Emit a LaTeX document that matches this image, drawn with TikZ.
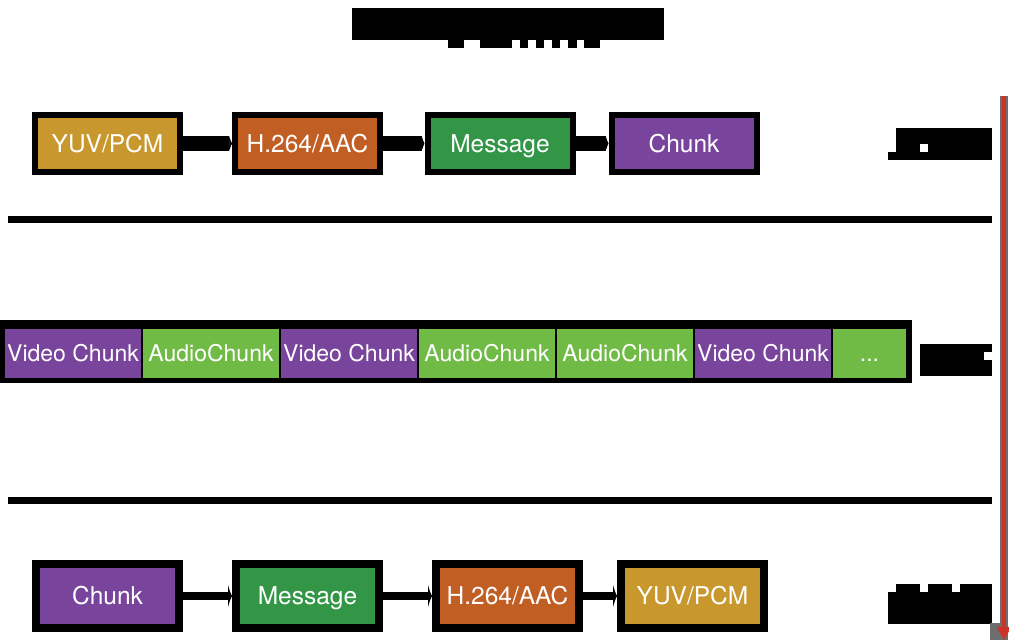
\documentclass[tikz,border=0pt]{standalone}
\usepackage{fontspec}
\setmainfont{TeX Gyre Heros}
\usetikzlibrary{positioning,arrows.meta}
\definecolor{rawc}{RGB}{200,152,46}
\definecolor{codecc}{RGB}{193,94,36}
\definecolor{msgc}{RGB}{50,150,70}
\definecolor{chunkc}{RGB}{121,68,155}
\definecolor{audioc}{RGB}{112,187,70}
\definecolor{arrowc}{RGB}{205,52,40}
\definecolor{shadec}{RGB}{110,110,110}

\begin{document}
\begin{tikzpicture}[x=1pt,y=-1pt,
  box/.style={draw=black, text=white, inner sep=0pt, text height=18pt, text depth=0.5pt, font=\fontsize{24.5}{27}\selectfont},
  topbox/.style={box, line width=6pt, minimum width=145pt, minimum height=57pt},
  botbox/.style={box, line width=8pt, minimum width=143pt, minimum height=64pt},
  cell/.style={draw=black, line width=1pt, text=white, inner sep=0pt, text height=17pt, text depth=0.5pt, minimum width=137pt, minimum height=50pt, font=\fontsize{23}{26}\selectfont},
  link/.style={draw=black},
  rule/.style={line width=7pt},
  blot/.style={fill=black, inner sep=0pt}]
\useasboundingbox (0,0) rectangle (1009,640);
% title (blacked out)
\node[blot, minimum width=312pt, minimum height=32pt] (title) at (508,24) {};
\foreach \a/\b in {448/464, 480/512, 520/528, 536/544, 552/560, 568/577, 584/600}
  { \fill (\a,40) rectangle (\b,48); }
% rules
\draw[rule] (8,219) -- (992,219);
\draw[rule] (8,500) -- (992,500);
% push side
\node[topbox, fill=rawc] (raw1) at (107.5,143.5) {YUV/PCM};
\node[topbox, fill=codecc] (codec1) at (307.5,143.5) {H.264/AAC};
\node[topbox, fill=msgc] (msg1) at (500,143.5) {Message};
\node[topbox, fill=chunkc] (chunk1) at (684,143.5) {Chunk};
\foreach \s/\t in {raw1/codec1, codec1/msg1, msg1/chunk1}
  { \draw[link, line width=15pt, -{Latex[length=3pt,width=17pt]}] (\s) -- (\t); }
\node[blot, minimum width=96pt, minimum height=32pt] (lblpush) at (944,144) {};
\fill (888,152) rectangle (896,160);
\fill[white] (920,144) rectangle (928,152);
% stream
\node[blot, minimum width=912pt, minimum height=63pt] (strip) at (456,351.5) {};
\node[cell, fill=chunkc, anchor=west] (c1) at (4,353) {Video Chunk};
\node[cell, fill=audioc, right=0pt of c1] (c2) {AudioChunk};
\node[cell, fill=chunkc, right=0pt of c2] (c3) {Video Chunk};
\node[cell, fill=audioc, right=0pt of c3] (c4) {AudioChunk};
\node[cell, fill=audioc, right=0pt of c4] (c5) {AudioChunk};
\node[cell, fill=chunkc, right=0pt of c5] (c6) {Video Chunk};
\node[cell, fill=audioc, minimum width=74pt, right=0pt of c6] (c7) {...};
\node[blot, minimum width=72pt, minimum height=32pt] (lbltrans) at (956,360) {};
\fill[white] (984,352) rectangle (992,360);
% pull side
\node[botbox, fill=chunkc] (chunk2) at (107.5,596) {Chunk};
\node[botbox, fill=msgc] (msg2) at (307.5,596) {Message};
\node[botbox, fill=codecc] (codec2) at (507.5,596) {H.264/AAC};
\node[botbox, fill=rawc] (raw2) at (692.5,596) {YUV/PCM};
\foreach \s/\t in {chunk2/msg2, msg2/codec2, codec2/raw2}
  { \draw[link, line width=8pt, -{Latex[length=4pt,width=24pt]}] (\s) -- (\t); }
\node[blot, minimum width=104pt, minimum height=32pt] (lblpull) at (940,608) {};
\foreach \a/\b in {896/920, 928/952, 960/992}
  { \fill (\a,584) rectangle (\b,592); }
% flow direction
\coordinate (ftop) at (1004,96);
\coordinate (fbot) at (1004,640);
\fill[shadec] (990,623) rectangle (1008,640);
\draw[shadec, line width=8pt] (ftop) -- (fbot);
\draw[arrowc, line width=4pt, -{Triangle[length=13pt,width=14pt]}] (ftop) -- (fbot);
\end{tikzpicture}
\end{document}
